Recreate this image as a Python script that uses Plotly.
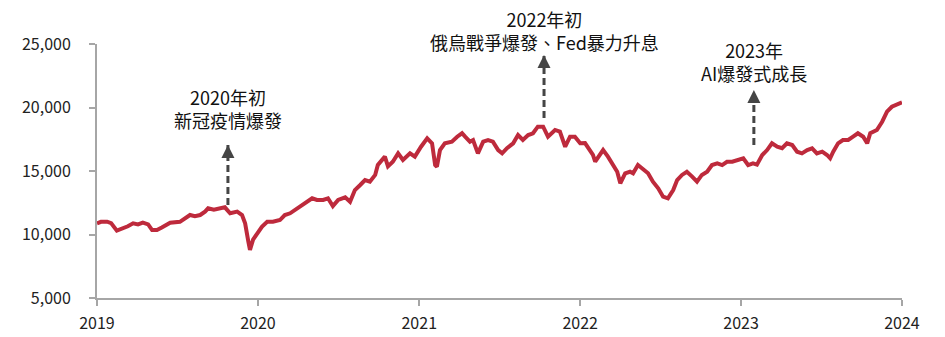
import plotly.graph_objects as go

# ---- data ----
dates = [
    "2019-01-01", "2019-01-10", "2019-01-24", "2019-02-02", "2019-02-15", "2019-02-27",
    "2019-03-12", "2019-03-24", "2019-04-04", "2019-04-15", "2019-04-27", "2019-05-06",
    "2019-05-17", "2019-05-28", "2019-06-16", "2019-07-08", "2019-07-22", "2019-07-31",
    "2019-08-11", "2019-08-23", "2019-09-03", "2019-09-10", "2019-09-23", "2019-10-07",
    "2019-10-18", "2019-10-30", "2019-11-15", "2019-11-26", "2019-12-03", "2019-12-10",
    "2019-12-14", "2019-12-21", "2019-12-30", "2020-01-10", "2020-01-22", "2020-02-04",
    "2020-02-20", "2020-03-02", "2020-03-14", "2020-03-25", "2020-04-06", "2020-04-21",
    "2020-05-03", "2020-05-14", "2020-05-28", "2020-06-08", "2020-06-19", "2020-07-01",
    "2020-07-17", "2020-07-28", "2020-08-08", "2020-08-20", "2020-08-31", "2020-09-11",
    "2020-09-23", "2020-09-29", "2020-10-15", "2020-10-22", "2020-11-02", "2020-11-14",
    "2020-11-25", "2020-12-11", "2020-12-22", "2021-01-05", "2021-01-19", "2021-01-30",
    "2021-02-06", "2021-02-10", "2021-02-17", "2021-02-28", "2021-03-16", "2021-03-28",
    "2021-04-08", "2021-04-15", "2021-04-26", "2021-05-03", "2021-05-14", "2021-05-26",
    "2021-06-06", "2021-06-17", "2021-06-29", "2021-07-08", "2021-07-19", "2021-08-02",
    "2021-08-13", "2021-08-24", "2021-09-05", "2021-09-16", "2021-09-27", "2021-10-09",
    "2021-10-20", "2021-11-05", "2021-11-16", "2021-11-28", "2021-12-09", "2021-12-20",
    "2022-01-01", "2022-01-12", "2022-01-23", "2022-01-30", "2022-02-04", "2022-02-11",
    "2022-02-22", "2022-03-05", "2022-03-17", "2022-03-26", "2022-04-02", "2022-04-13",
    "2022-04-24", "2022-05-01", "2022-05-12", "2022-05-24", "2022-06-04", "2022-06-15",
    "2022-06-27", "2022-07-08", "2022-07-19", "2022-07-31", "2022-08-09", "2022-08-20",
    "2022-08-31", "2022-09-12", "2022-09-23", "2022-10-04", "2022-10-16", "2022-10-27",
    "2022-11-08", "2022-11-19", "2022-11-30", "2022-12-12", "2022-12-23", "2023-01-06",
    "2023-01-17", "2023-01-28", "2023-02-06", "2023-02-18", "2023-03-01", "2023-03-12",
    "2023-03-24", "2023-04-04", "2023-04-15", "2023-04-27", "2023-05-08", "2023-05-19",
    "2023-05-31", "2023-06-11", "2023-06-22", "2023-07-04", "2023-07-15", "2023-07-22",
    "2023-07-29", "2023-08-09", "2023-08-20", "2023-09-01", "2023-09-12", "2023-09-23",
    "2023-10-05", "2023-10-14", "2023-10-21", "2023-11-05", "2023-11-17", "2023-11-28",
    "2023-12-09", "2023-12-21", "2024-01-01",
]
values = [
    10880, 11000, 11010, 10900, 10300, 10450,
    10650, 10880, 10800, 10930, 10800, 10350,
    10350, 10550, 10930, 11000, 11300, 11535,
    11450, 11535, 11800, 12060, 11950, 12060,
    12140, 11670, 11800, 11535, 10880, 9500,
    8780, 9600, 10090, 10610, 11000, 11000,
    11140, 11535, 11670, 11930, 12240, 12580,
    12850, 12720, 12720, 12850, 12240, 12720,
    12930, 12580, 13500, 13900, 14290, 14160,
    14690, 15470, 16130, 15360, 15730, 16390,
    15870, 16390, 16130, 16910, 17570, 17180,
    15470, 15340, 16650, 17180, 17310, 17700,
    17970, 17700, 17310, 17440, 16390, 17310,
    17440, 17310, 16650, 16390, 16800, 17180,
    17830, 17440, 17830, 17970, 18490, 18490,
    17700, 18230, 18100, 16910, 17700, 17700,
    17180, 17200, 16650, 16260, 15730, 16050,
    16650, 16130, 15470, 14940, 14030, 14820,
    14940, 14820, 15470, 15080, 14820, 14160,
    13640, 12980, 12850, 13500, 14290, 14690,
    14940, 14560, 14160, 14690, 14940, 15470,
    15600, 15470, 15730, 15730, 15870, 16000,
    15470, 15600, 15500, 16260, 16650, 17180,
    16910, 16790, 17180, 17050, 16520, 16390,
    16650, 16790, 16390, 16520, 16260, 16000,
    16520, 17180, 17440, 17440, 17700, 17970,
    17700, 17180, 17970, 18230, 18880, 19670,
    20060, 20200, 20400,
]

year_ticks = ["2019-01-01", "2020-01-01", "2021-01-01", "2022-01-01", "2023-01-01", "2024-01-01"]
year_labels = ["2019", "2020", "2021", "2022", "2023", "2024"]
y_ticks = [5000, 10000, 15000, 20000, 25000]

# annotation arrows
arrow_x = ["2019-10-25", "2021-10-11", "2023-01-30"]
arrow_base = [12320, 19170, 17050]
arrow_tip = [17050, 24130, 21380]
note_text = ["2020年初<br>新冠疫情爆發", "2022年初<br>俄烏戰爭爆發、Fed暴力升息", "2023年<br>AI爆發式成長"]
note_y = [0.745, 1.053, 0.933]

LINE = "#BE2A3C"
ARROW = "#454545"
FONT = "Noto Sans CJK TC"

fig = go.Figure()
fig.add_trace(go.Scatter(x=dates, y=values, mode="lines",
                         line=dict(color=LINE, width=4), hoverinfo="skip", showlegend=False))

for ax_, b, t in zip(arrow_x, arrow_base, arrow_tip):
    fig.add_trace(go.Scatter(x=[ax_, ax_], y=[b, t], mode="lines",
                             line=dict(color=ARROW, width=3, dash="7px,4px"),
                             showlegend=False, hoverinfo="skip", cliponaxis=False))
fig.add_trace(go.Scatter(x=arrow_x, y=arrow_tip, mode="markers",
                         marker=dict(symbol="arrow-up", size=13, color=ARROW, line=dict(width=0)),
                         showlegend=False, hoverinfo="skip", cliponaxis=False))

for x_, txt, yp in zip(arrow_x, note_text, note_y):
    fig.add_annotation(x=x_, xref="x", y=yp, yref="paper", text=txt, showarrow=False,
                       xanchor="center", yanchor="middle", align="center",
                       font=dict(family=FONT, size=18, color="#111111"))

fig.update_layout(
    width=945, height=337,
    margin=dict(l=97, r=43, t=44, b=39),
    paper_bgcolor="white", plot_bgcolor="white",
    font=dict(family=FONT, color="#222222"),
)
fig.update_xaxes(
    type="date", range=["2019-01-01", "2024-01-01"],
    tickvals=year_ticks, ticktext=year_labels,
    showgrid=False, zeroline=False, automargin=False,
    showline=True, linecolor="#A6A6A6", linewidth=2,
    ticks="outside", ticklen=6, tickcolor="#A6A6A6", tickwidth=2,
    tickfont=dict(family=FONT, size=16, color="#222222"),
    ticklabelstandoff=4,
)
fig.update_yaxes(
    range=[5000, 25000], tickvals=y_ticks, tickformat=",d",
    showgrid=False, zeroline=False, automargin=False,
    showline=True, linecolor="#A6A6A6", linewidth=2,
    ticks="outside", ticklen=6, tickcolor="#A6A6A6", tickwidth=2,
    tickfont=dict(family=FONT, size=16, color="#222222"),
    ticklabelstandoff=15,
)

fig.write_html("out.html")
